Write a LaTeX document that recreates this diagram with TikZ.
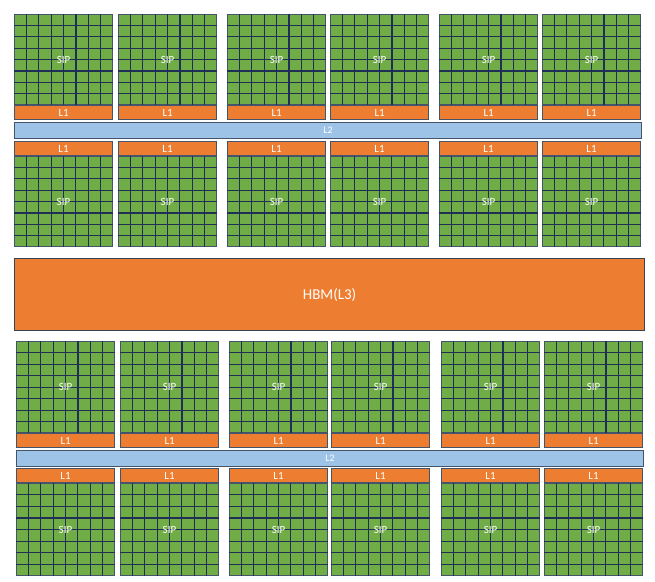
\documentclass[tikz,border=0pt]{standalone}
\usepackage{fontspec}
\setmainfont{Carlito}
\usetikzlibrary{calc,positioning}
\definecolor{sipgreen}{HTML}{70AD47}
\definecolor{cacheorange}{HTML}{ED7D31}
\definecolor{busblue}{HTML}{9DC3E6}
\definecolor{gridnavy}{HTML}{1F2F55}
\definecolor{rim}{HTML}{44546A}

\tikzset{
  sipbox/.style={draw=rim,line width=1.2pt,fill=sipgreen,minimum width=98pt,minimum height=#1,inner sep=0pt,
    text=white,font=\fontsize{11}{12}\selectfont},
  sipbox/.default=90pt,
  gridline/.style={gridnavy,line width=1.1pt},
  lonebox/.style={draw=rim,line width=1pt,fill=cacheorange,minimum width=98pt,minimum height=14pt,inner sep=0pt,
    text=white,font=\fontsize{11}{12}\selectfont},
  ltwobar/.style={draw=rim,line width=1pt,fill=busblue,minimum width=627pt,minimum height=16pt,inner sep=0pt,
    anchor=north west,text=white,font=\fontsize{10}{12}\selectfont},
  hbmbox/.style={draw=rim!80!black,line width=1.2pt,fill=cacheorange,minimum width=630pt,minimum height=72pt,
    anchor=north west,text=white,font=\fontsize{15}{17}\selectfont}
}
% 8 x 8 cells over a SIP node
\newcommand{\sipgrid}[1]{%
  \foreach \k in {1,...,7}{
    \draw[gridline] ($(#1.north west)!\k/8!(#1.north east)$) -- ($(#1.south west)!\k/8!(#1.south east)$);
    \draw[gridline] ($(#1.north west)!\k/8!(#1.south west)$) -- ($(#1.north east)!\k/8!(#1.south east)$);
  }
  \node[text=white,font=\fontsize{11}{12}\selectfont] at (#1.center) {SIP};
}

\begin{document}
\begin{tikzpicture}[x=1pt,y=-1pt]
\useasboundingbox (0,0) rectangle (655,581);

% upper half
\foreach \c/\x in {1/14,2/118,3/227,4/330,5/439,6/542}{
  \node[sipbox,anchor=north west] (sipa\c) at (\x,14) {};
  \sipgrid{sipa\c}
  \node[lonebox,below=0pt of sipa\c] (lonea\c) {L1};
  \node[lonebox,anchor=north west] (loneb\c) at (\x,141) {L1};
  \node[sipbox,below=0pt of loneb\c] (sipb\c) {};
  \sipgrid{sipb\c}
}
\node[ltwobar] (ltwoa) at (14,122) {L2};

\node[hbmbox] (hbm) at (14,258) {HBM(L3)};

% lower half
\foreach \c/\x in {1/16,2/120,3/229,4/331,5/441,6/544}{
  \node[sipbox=91pt,anchor=north west] (sipc\c) at (\x,341) {};
  \sipgrid{sipc\c}
  \node[lonebox,below=0pt of sipc\c] (lonec\c) {L1};
  \node[lonebox,anchor=north west] (loned\c) at (\x,468) {L1};
  \node[sipbox=92pt,below=0pt of loned\c] (sipd\c) {};
  \sipgrid{sipd\c}
}
\node[ltwobar] (ltwob) at (16,450) {L2};
\end{tikzpicture}
\end{document}
